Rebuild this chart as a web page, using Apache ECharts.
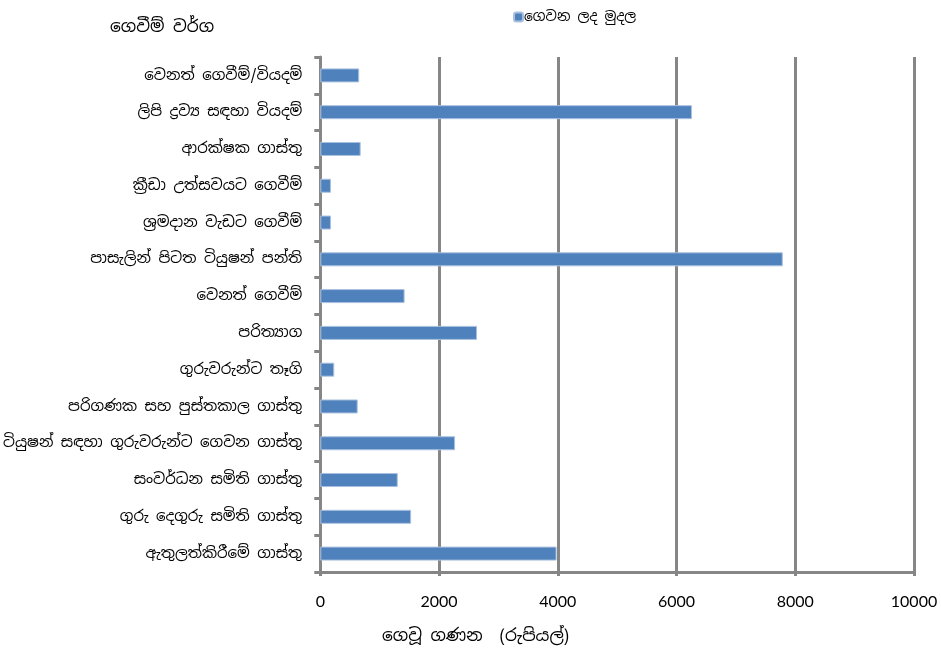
<!DOCTYPE html>
<html>
<head>
<meta charset="utf-8">
<script src="https://cdn.jsdelivr.net/npm/echarts@6/dist/echarts.min.js"></script>
<style>html,body{margin:0;padding:0;background:#fff}#c{width:941px;height:651px}</style>
</head>
<body>
<div id="c"></div>
<script>
const categories = [
  'ඇතුලත්කිරීමේ ගාස්තු',
  'ගුරු දෙගුරු සමිති ගාස්තු',
  'සංවර්ධන සමිති ගාස්තු',
  'ටියුෂන් සඳහා ගුරුවරුන්ට ගෙවන ගාස්තු',
  'පරිගණක සහ පුස්තකාල ගාස්තු',
  'ගුරුවරුන්ට තෑගි',
  'පරිත්‍යාග',
  'වෙනත් ගෙවීම්',
  'පාසැලින් පිටත ටියුෂන් පන්ති',
  'ශ්‍රමදාන වැඩට ගෙවීම්',
  'ක්‍රීඩා උත්සවයට ගෙවීම්',
  'ආරක්ෂක ගාස්තු',
  'ලිපි ද්‍රව්‍ය සඳහා වියදම්',
  'වෙනත් ගෙවීම්/වියදම්'
];
const paidValues = [3980, 1530, 1305, 2270, 630, 235, 2640, 1420, 7790, 180, 180, 680, 6260, 655];
const seriesName = 'ගෙවන ලද මුදල';
const yTitle = 'ගෙවීම් වර්ග';
const xTitle = 'ගෙවූ ගණන  (රුපියල්)';
const xTicks = [0, 2000, 4000, 6000, 8000, 10000];

const chart = echarts.init(document.getElementById('c'), null, {renderer: 'canvas'});
const sinFont = '"Noto Sans Sinhala", "Iskoola Pota", "Noto Sans", sans-serif';
chart.setOption({
  animation: false,
  backgroundColor: '#fff',
  title: [
    {text: yTitle, left: 105, top: 14, textStyle: {fontFamily: sinFont, fontSize: 17, fontWeight: 'normal', color: '#000'}},
    {text: xTitle, left: 377, top: 623, textStyle: {fontFamily: sinFont, fontSize: 17, fontWeight: 'normal', color: '#000'}}
  ],
  legend: {
    data: [seriesName], left: 508, top: 5, itemWidth: 9, itemHeight: 9, itemGap: 2,
    textStyle: {fontFamily: sinFont, fontSize: 14, color: '#000', padding: [0,0,0,-4]}
  },
  grid: {left: 320, right: 27, top: 57, bottom: 79, containLabel: false},
  xAxis: {
    type: 'value', min: xTicks[0], max: xTicks[xTicks.length-1], interval: 2000,
    axisLine: {show: true, lineStyle: {color: '#868686', width: 3}},
    axisTick: {show: true, length: 4, lineStyle: {color: '#868686', width: 3}},
    splitLine: {show: true, lineStyle: {color: '#868686', width: 3}},
    axisLabel: {margin: 22, fontSize: 16, color: '#000', fontFamily: 'Lato, "Open Sans", sans-serif',
      formatter: v => String(v)}
  },
  yAxis: {
    type: 'category', data: categories,
    axisLine: {show: true, lineStyle: {color: '#868686', width: 3}},
    axisTick: {show: true, length: 6, lineStyle: {color: '#868686', width: 3}},
    axisLabel: {margin: 18, fontSize: 15, color: '#000', fontFamily: sinFont}
  },
  series: [{
    name: seriesName, type: 'bar', data: paidValues, barWidth: 14,
    itemStyle: {color: '#4F81BD', borderColor: '#A9C1DF', borderWidth: 1}
  }]
});
</script>
</body>
</html>
